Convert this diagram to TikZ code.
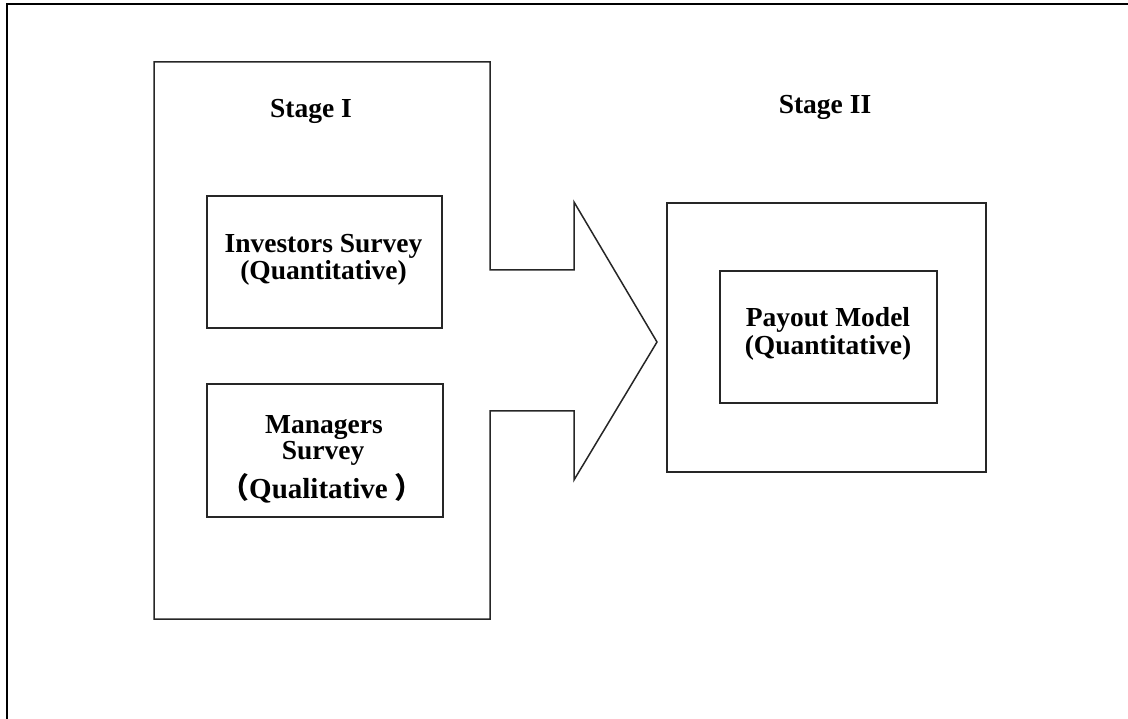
\documentclass[tikz,border=0pt]{standalone}
\usepackage{fontspec}
\setmainfont{Liberation Serif}
\newfontfamily\cjkfont{Noto Sans CJK SC}
\begin{document}
\begin{tikzpicture}[x=1pt,y=-1pt,
  shapeline/.style={draw=black!85,line width=1.5pt,line join=miter},
  frameline/.style={draw=black,line width=2.6pt},
  lbl/.style={anchor=base,inner sep=0pt,font=\fontsize{27.5}{30}\selectfont\bfseries}]
\useasboundingbox (0,0) rectangle (1128,719);
\clip (0,0) rectangle (1128,719);
% outer frame (cut off at right and bottom)
\draw[frameline] (7,760) -- (7,4) -- (1160,4);
% Stage I block with arrow
\draw[shapeline] (154,62) -- (490,62) -- (490,270) -- (574,270) -- (574,202)
  -- (657,342) -- (574,480) -- (574,411) -- (490,411) -- (490,619) -- (154,619) -- cycle;
\node[lbl] (s1) at (311,118) {Stage I};
% Investors box
\draw[shapeline] (207,196) rectangle (442,328);
\node[lbl] (inv1) at (323.5,253) {Investors Survey};
\node[lbl] (inv2) at (323.5,280) {(Quantitative)};
% Managers box
\draw[shapeline] (207,384) rectangle (443,517);
\node[lbl] (man1) at (324,433) {Managers};
\node[lbl] (man2) at (323,459) {Survey};
\node[lbl,font=\fontsize{29}{31}\selectfont\bfseries] (man3) at (322,498) {{\cjkfont （}Qualitative\hspace{7pt}{\cjkfont ）}};
% Stage II
\node[lbl] (s2) at (825,114) {Stage II};
\draw[shapeline] (667,203) rectangle (986,472);
\draw[shapeline] (720,271) rectangle (937,403);
\node[lbl] (pay1) at (828,327) {Payout Model};
\node[lbl] (pay2) at (828,355) {(Quantitative)};
\end{tikzpicture}
\end{document}
